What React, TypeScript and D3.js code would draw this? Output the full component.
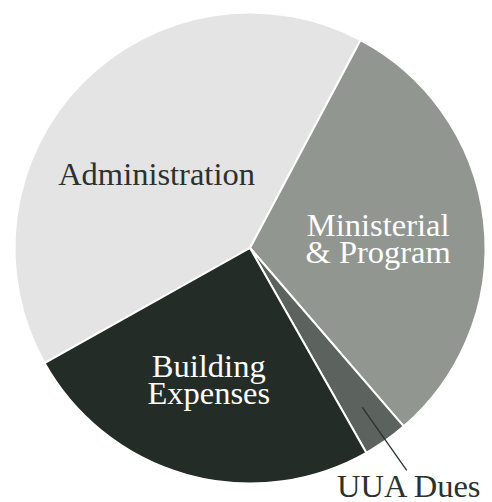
import { useEffect, useRef } from "react";
import * as d3 from "d3";

// budget shares (%)
const categories = ["Administration", "Ministerial & Program", "UUA Dues", "Building Expenses"];
const shares = [40.9, 30.9, 3.1, 25.1];
const labelLines = [["Administration"], ["Ministerial", "& Program"], ["UUA Dues"], ["Building", "Expenses"]];

const colors = ["#e4e4e4", "#929691", "#5c625d", "#242c27"];
const textColors = ["#2b312d", "#ffffff", "#2b312d", "#ffffff"];

export default function App() {
  const svgRef = useRef<SVGSVGElement>(null);
  const width = 492;
  const height = 502;

  useEffect(() => {
    if (!svgRef.current) return;
    const svg = d3.select(svgRef.current);
    svg.selectAll("*").remove();

    const cx = 250;
    const cy = 248;
    const radius = 235.5;

    const data = categories.map((c, i) => ({ name: c, value: shares[i], i }));

    // admin slice ends at ~28deg from top
    const start = (28 / 180) * Math.PI - (shares[0] / 100) * 2 * Math.PI;
    const pie = d3
      .pie<any>()
      .sort(null)
      .value((d) => d.value)
      .startAngle(start)
      .endAngle(start + 2 * Math.PI);

    const arcs = pie(data);
    const arc = d3.arc<any>().innerRadius(0).outerRadius(radius);

    const g = svg.append("g").attr("transform", `translate(${cx},${cy})`);

    g.selectAll("path")
      .data(arcs)
      .enter()
      .append("path")
      .attr("d", arc)
      .attr("fill", (d) => colors[d.data.i])
      .attr("stroke", "white")
      .attr("stroke-width", 2)
      .attr("stroke-linejoin", "round");

    const labelArc = d3.arc<any>().innerRadius(135).outerRadius(135);
    // small nudges from centroid to first baseline
    const nudge: Record<string, [number, number]> = {
      "Administration": [3, 31],
      "Ministerial & Program": [-6, 3],
      "Building Expenses": [-5, -1],
    };

    const font = "'Liberation Serif', 'Times New Roman', serif";
    const fontSize = 32.5;
    const lineH = 26.7;

    arcs.forEach((a) => {
      const name = a.data.name;
      if (name === "UUA Dues") {
        const mid = (a.startAngle + a.endAngle) / 2;
        const p0 = [Math.sin(mid) * 195, -Math.cos(mid) * 195];
        const p1 = [Math.sin(mid) * 272, -Math.cos(mid) * 272];
        g.append("line")
          .attr("x1", p0[0])
          .attr("y1", p0[1])
          .attr("x2", p1[0])
          .attr("y2", p1[1])
          .attr("stroke", "#2b312d")
          .attr("stroke-width", 1.3);
        g.append("text")
          .attr("x", p1[0] + 2)
          .attr("y", p1[1] + 27)
          .attr("text-anchor", "middle")
          .attr("font-family", font)
          .attr("font-size", fontSize)
          .attr("fill", textColors[a.data.i])
          .text(labelLines[a.data.i][0]);
        return;
      }
      const [x, y] = labelArc.centroid(a);
      const [dx, dy] = nudge[name];
      const t = g
        .append("text")
        .attr("text-anchor", "middle")
        .attr("font-family", font)
        .attr("font-size", fontSize)
        .attr("fill", textColors[a.data.i]);
      labelLines[a.data.i].forEach((line, k) => {
        t.append("tspan")
          .attr("x", x + dx)
          .attr("y", y + dy + k * lineH)
          .text(line);
      });
    });
  }, []);

  return (
    <svg
      ref={svgRef}
      width={width}
      height={height}
      style={{ position: "absolute", left: 0, top: 0, background: "white" }}
    />
  );
}
